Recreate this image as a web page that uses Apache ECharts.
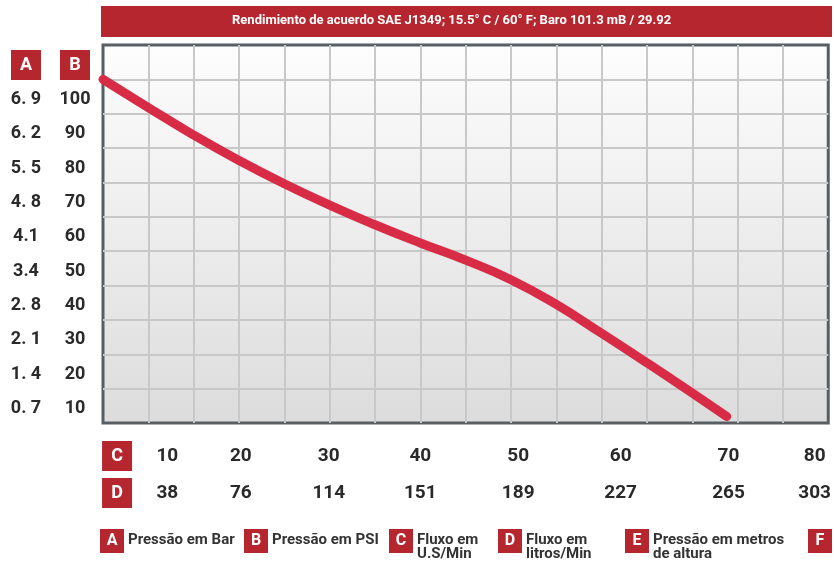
<!DOCTYPE html>
<html>
<head>
<meta charset="utf-8">
<title>Rendimiento SAE J1349</title>
<script src="https://cdn.jsdelivr.net/npm/echarts@6/dist/echarts.min.js"></script>
<style>
  html, body { margin: 0; padding: 0; background: #fff; }
  #main { width: 834px; height: 563px; }
</style>
</head>
<body>
<div id="main"></div>
<script>
// curva de rendimiento: fluxo (U.S gal/min) x pressão (PSI)
var flowGpm = [0, 5, 10, 15, 20, 25, 30, 35, 40, 45, 50, 55, 60, 65, 68.8];
var pressurePsi = [100, 91.8, 83.8, 76.4, 69.6, 63.4, 57.7, 52.4, 47.4, 41.7, 34.5, 26.1, 17.5, 8.7, 1.9];

// rótulos dos eixos (como aparecem na imagem)
var psiTicks = [10, 20, 30, 40, 50, 60, 70, 80, 90, 100];
var barLabels = ['0. 7', '1. 4', '2. 1', '2. 8', '3.4', '4.1', '4. 8', '5. 5', '6. 2', '6. 9'];
var gpmLabels = ['10', '20', '30', '40', '50', '60', '70', '80'];
var lpmLabels = ['38', '76', '114', '151', '189', '227', '265', '303'];
var flowLabelAt = [7.1, 15.2, 24.9, 35.0, 45.8, 57.1, 69.0, 78.5]; // onde os rótulos ficam no eixo

var legendKeys = ['A', 'B', 'C', 'D', 'E', 'F'];
var legendNames = ['Pressão em Bar', 'Pressão em PSI', 'Fluxo em\nU.S/Min', 'Fluxo em\nlitros/Min', 'Pressão em metros\nde altura', ''];

var titleText = 'Rendimiento de acuerdo SAE J1349; 15.5° C / 60° F; Baro 101.3 mB / 29.92';

var RED = '#b5262e';
var FONT = 'Roboto';
var BADGE_POS = 1.55;

var chart = echarts.init(document.getElementById('main'), null, { renderer: 'canvas' });

function badge(size) {
  return {
    backgroundColor: RED, color: '#fff', width: size, height: size, lineHeight: size,
    align: 'center', fontSize: 18, fontWeight: 'bold', fontFamily: FONT
  };
}

var gridLine = { show: true, showMinLine: false, showMaxLine: false, lineStyle: { color: '#c8c8c8', width: 2 } };

function yLabel(labels, key, margin) {
  return {
    show: true, margin: margin, align: 'center', verticalAlign: 'middle',
    padding: [40, 0, 0, 0],
    color: '#2a2a2a', fontSize: 18, fontWeight: 'bold', fontFamily: FONT,
    rich: { b: badge(30) },
    formatter: function (v) {
      if (v === 110) return '{b|' + key + '}';
      var i = psiTicks.indexOf(v);
      return i < 0 ? '' : labels[i];
    }
  };
}

function xLabel(labels, key, margin) {
  return {
    show: true, margin: margin, verticalAlign: 'middle',
    customValues: [BADGE_POS].concat(flowLabelAt),
    color: '#2a2a2a', fontSize: 19, fontWeight: 'bold', fontFamily: FONT,
    rich: { b: badge(30) },
    formatter: function (v) {
      if (v === BADGE_POS) return '{b|' + key + '}';
      var i = flowLabelAt.indexOf(v);
      return i < 0 ? '' : labels[i];
    }
  };
}

// legenda de baixo
var legendX = [100, 244, 389, 498, 625, 808];
var legendGraphics = [];
legendKeys.forEach(function (k, i) {
  legendGraphics.push({
    type: 'rect', shape: { x: legendX[i], y: 529, width: 24, height: 24 },
    style: { fill: RED }
  });
  legendGraphics.push({
    type: 'text', x: legendX[i] + 12, y: 541,
    style: { text: k, fill: '#fff', font: 'bold 16px ' + FONT, align: 'center', verticalAlign: 'middle' }
  });
  if (legendNames[i]) {
    legendGraphics.push({
      type: 'text', x: legendX[i] + 28, y: 533,
      style: { text: legendNames[i], fill: '#333', font: 'bold 15px ' + FONT, lineHeight: 14, verticalAlign: 'top' }
    });
  }
});

var option = {
  backgroundColor: '#fff',
  animation: false,
  title: {
    text: titleText, left: 232, top: 14, padding: 0,
    textStyle: { color: '#fff', fontSize: 13, fontWeight: 'bold', fontFamily: FONT }
  },
  graphic: [
    { type: 'rect', z: -1, shape: { x: 101, y: 6, width: 731, height: 31 }, style: { fill: RED } }
  ].concat(legendGraphics),
  grid: {
    left: 103, right: 3, top: 45, bottom: 140,
    show: true, borderColor: '#595e62', borderWidth: 3,
    backgroundColor: new echarts.graphic.LinearGradient(0, 0, 0, 1, [
      { offset: 0, color: '#fdfdfd' },
      { offset: 1, color: '#dcdcdc' }
    ])
  },
  xAxis: [
    {
      type: 'value', min: 0, max: 80, interval: 5, position: 'bottom',
      axisLine: { show: false }, axisTick: { show: false }, axisLabel: { show: false },
      splitLine: gridLine
    },
    {
      type: 'value', min: 0, max: 80, position: 'bottom',
      axisLine: { show: false }, axisTick: { show: false }, splitLine: { show: false },
      axisLabel: xLabel(gpmLabels, 'C', 33)
    },
    {
      type: 'value', min: 0, max: 80, position: 'bottom',
      axisLine: { show: false }, axisTick: { show: false }, splitLine: { show: false },
      axisLabel: xLabel(lpmLabels, 'D', 70)
    }
  ],
  yAxis: [
    {
      type: 'value', min: 0, max: 110, interval: 10, position: 'left',
      axisLine: { show: false }, axisTick: { show: false },
      splitLine: gridLine,
      axisLabel: yLabel(psiTicks.map(String), 'B', 28)
    },
    {
      type: 'value', min: 0, max: 110, interval: 10, position: 'left',
      axisLine: { show: false }, axisTick: { show: false }, splitLine: { show: false },
      axisLabel: yLabel(barLabels, 'A', 77)
    }
  ],
  series: [
    {
      type: 'line',
      xAxisIndex: 0, yAxisIndex: 0,
      data: flowGpm.map(function (x, i) { return [x, pressurePsi[i]]; }),
      smooth: 0.5,
      symbol: 'none',
      clip: false,
      lineStyle: { color: '#d82c46', width: 9, cap: 'round', join: 'round' },
      z: 5
    }
  ]
};

chart.setOption(option);
</script>
</body>
</html>
